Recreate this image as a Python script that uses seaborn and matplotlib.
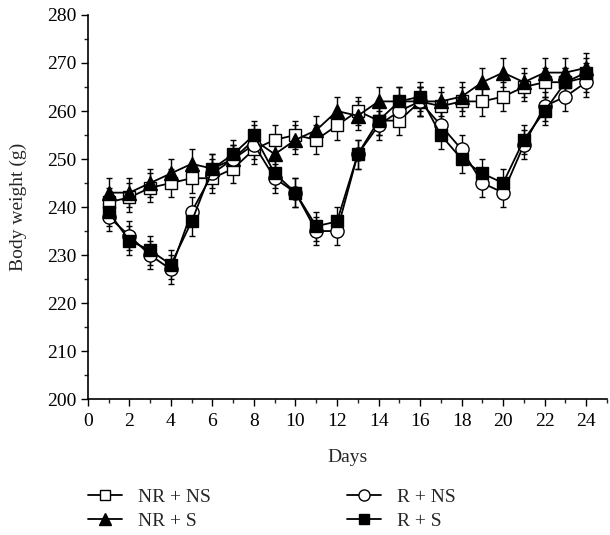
import numpy as np
import pandas as pd
import matplotlib
matplotlib.use("Agg")
import matplotlib.pyplot as plt
from matplotlib.ticker import MultipleLocator
import seaborn as sns

days = list(range(1, 25))
nr_ns = [241, 242, 244, 245, 246, 246, 248, 252, 254, 255, 254, 257,
         260, 258, 258, 262, 261, 262, 262, 263, 265, 266, 266, 267]
nr_s = [243, 243, 245, 247, 249, 248, 250, 254, 251, 254, 256, 260,
        259, 262, 262, 262, 262, 263, 266, 268, 266, 268, 268, 269]
r_ns = [238, 234, 230, 227, 239, 247, 250, 253, 246, 243, 235, 235,
        251, 257, 260, 262, 257, 252, 245, 243, 253, 261, 263, 266]
r_s = [239, 233, 231, 228, 237, 248, 251, 255, 247, 243, 236, 237,
       251, 258, 262, 263, 255, 250, 247, 245, 254, 260, 266, 268]
err = [3] * 24

groups = ["NR + NS", "NR + S", "R + NS", "R + S"]
values = [nr_ns, nr_s, r_ns, r_s]
markers = {"NR + NS": "s", "NR + S": "^", "R + NS": "o", "R + S": "s"}
faces = {"NR + NS": "white", "NR + S": "black", "R + NS": "white", "R + S": "black"}
sizes = {"NR + NS": 8.5, "NR + S": 10, "R + NS": 9.5, "R + S": 8.5}
leg_sizes = {"NR + NS": 6.5, "NR + S": 9, "R + NS": 8, "R + S": 6.5}

df = pd.DataFrame({
    "Days": days * 4,
    "Weight": sum(values, []),
    "Group": np.repeat(groups, 24),
})

sns.set_style("ticks")
plt.rcParams["font.family"] = ["Liberation Serif", "DejaVu Serif"]

fig = plt.figure(figsize=(6.1, 5.35), dpi=100)
ax = fig.add_axes([0.144, 0.254, 0.851, 0.718])

handles = []
for g in groups:
    d = df[df["Group"] == g]
    ax.errorbar(d["Days"], d["Weight"], yerr=err, fmt="none", ecolor="black",
                elinewidth=1, capsize=2.5, capthick=1, zorder=2)
    sns.lineplot(data=d, x="Days", y="Weight", ax=ax, color="black",
                 marker=markers[g], markersize=sizes[g], markerfacecolor=faces[g],
                 markeredgecolor="black", markeredgewidth=1, linewidth=1.3,
                 zorder=3, legend=False)
    handles.append(plt.Line2D([], [], color="black", marker=markers[g],
                              markersize=leg_sizes[g], markerfacecolor=faces[g],
                              markeredgecolor="black", linewidth=1.3, label=g))

ax.set_xlim(0, 25)
ax.set_ylim(200, 280)
ax.set_xticks(range(0, 25, 2))
ax.xaxis.set_minor_locator(MultipleLocator(1))
ax.yaxis.set_major_locator(MultipleLocator(10))
ax.yaxis.set_minor_locator(MultipleLocator(5))
ax.tick_params(which="major", direction="out", length=5, width=1, labelsize=14,
               colors="black", pad=3)
ax.tick_params(axis="x", which="major", pad=5)
ax.tick_params(which="minor", direction="out", length=3, width=1)
for s in ["left", "bottom"]:
    ax.spines[s].set_linewidth(1.2)
    ax.spines[s].set_color("black")
sns.despine(ax=ax)
ax.set_xlabel("Days", fontsize=14, va="center")
ax.xaxis.set_label_coords(0.5, -0.151)
ax.set_ylabel("Body weight (g)", fontsize=14, va="center")
ax.yaxis.set_label_coords(-0.133, 0.5)

fig.legend(handles=handles, loc="upper left", bbox_to_anchor=(0.145, 0.087),
           ncol=2, frameon=False, fontsize=14, borderpad=0, borderaxespad=0,
           columnspacing=7.0, handlelength=1.75, handletextpad=0.8,
           labelspacing=0.3)

fig.savefig("out.png", dpi=100)
